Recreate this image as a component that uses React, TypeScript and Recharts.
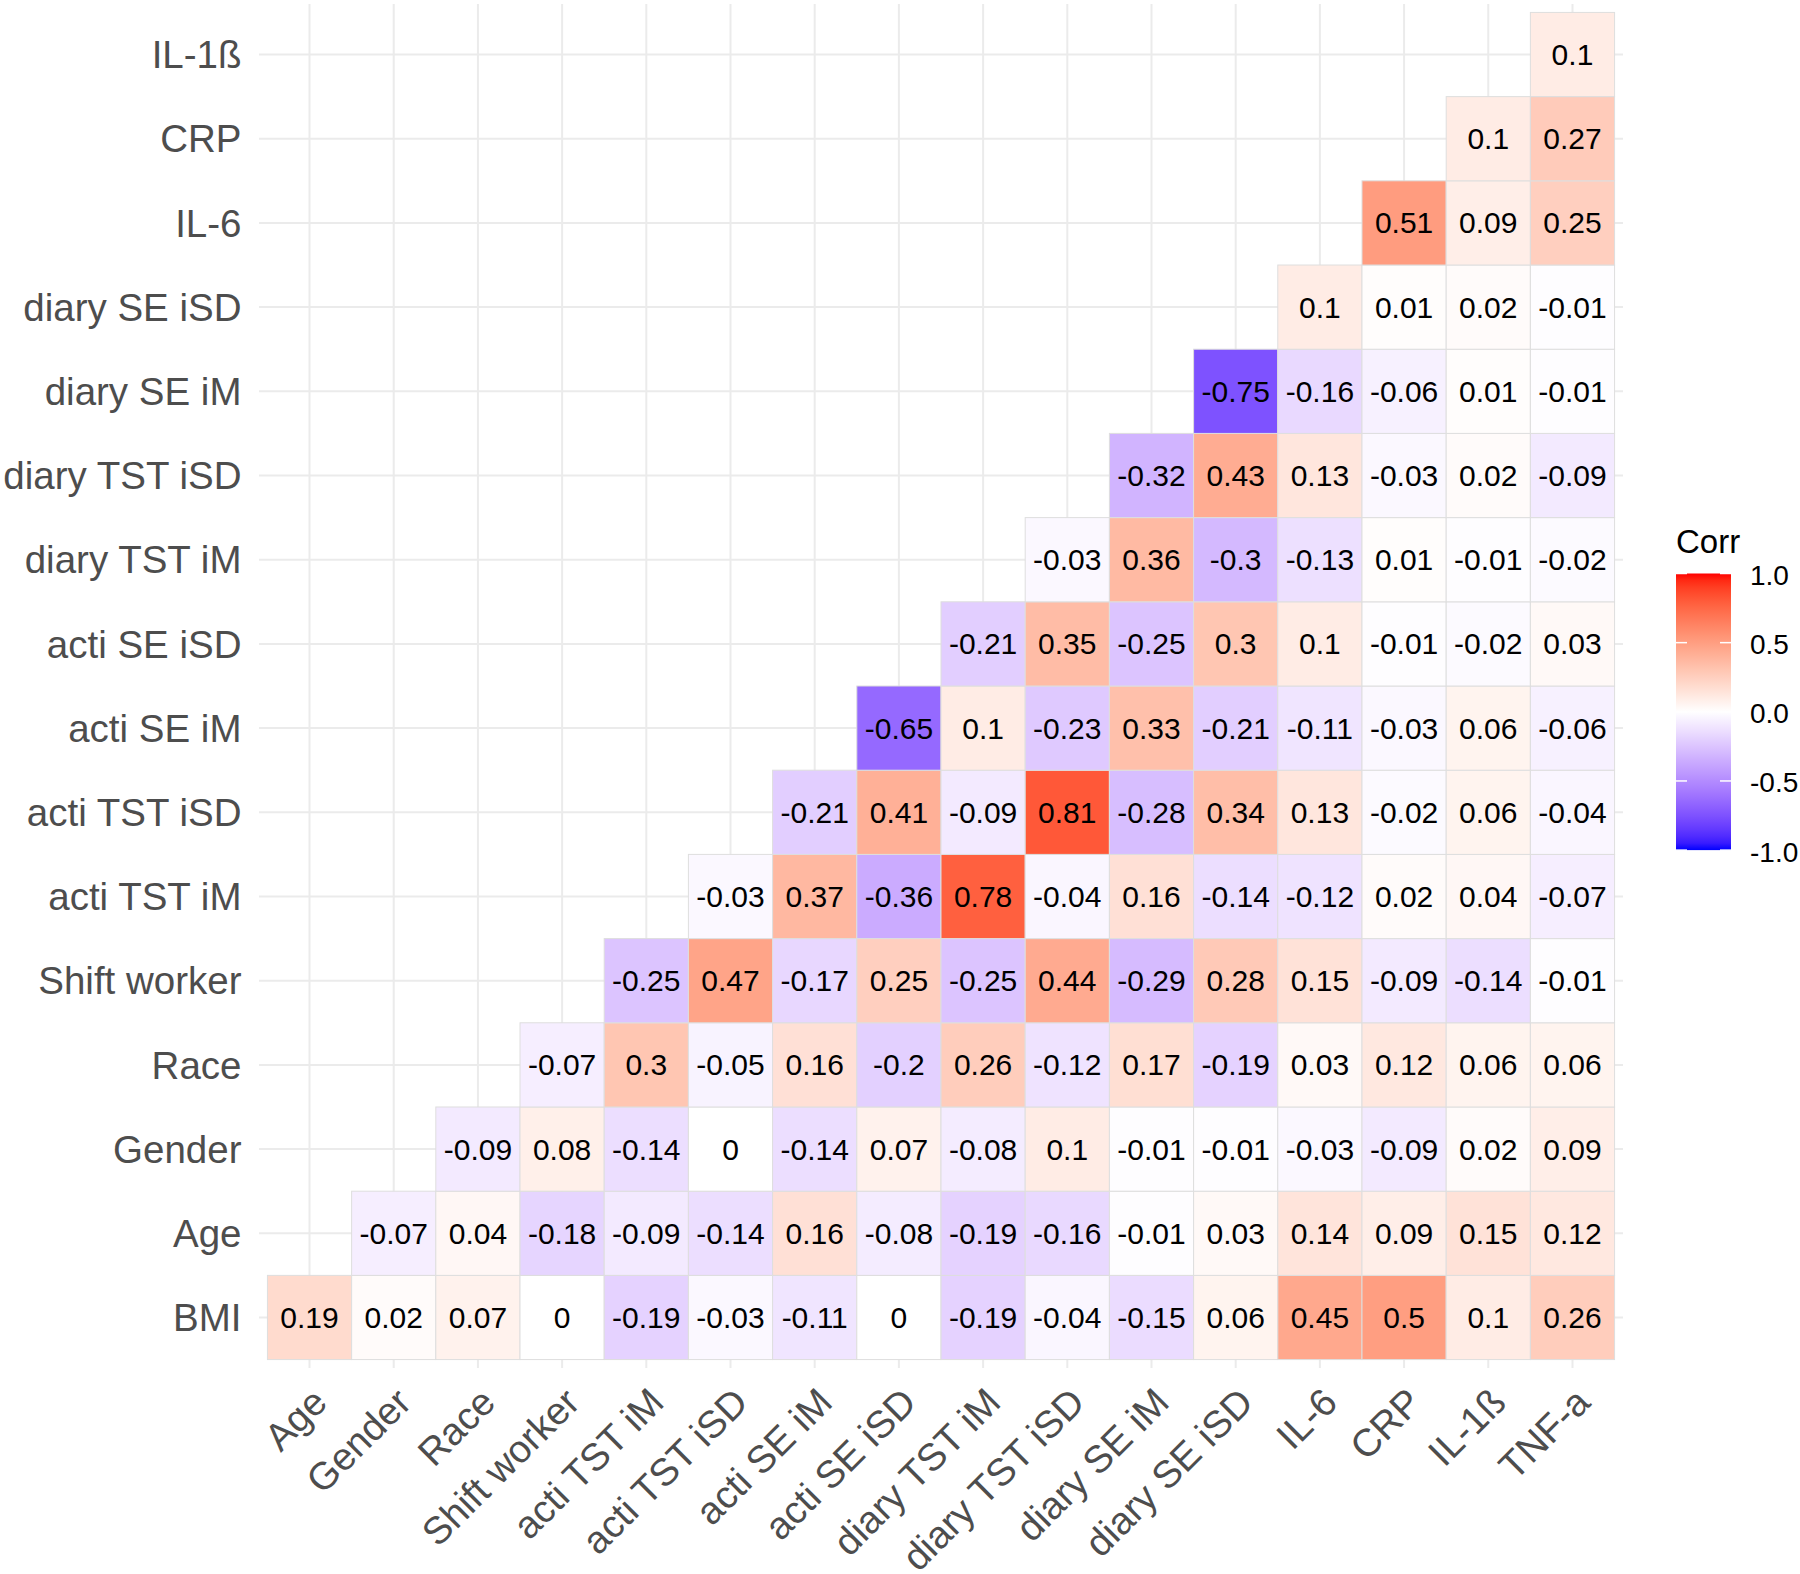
import { CartesianGrid, Scatter, ScatterChart, XAxis, YAxis } from "recharts";

const variables = [
  "BMI", "Age", "Gender", "Race", "Shift worker",
  "acti TST iM", "acti TST iSD", "acti SE iM", "acti SE iSD",
  "diary TST iM", "diary TST iSD", "diary SE iM", "diary SE iSD",
  "IL-6", "CRP", "IL-1ß", "TNF-a",
];
const xLabels = variables.slice(1);
const yLabels = variables.slice(0, 16);

// one array per row, read left to right (columns start at the variable after the row's own)
const bmi = [0.19, 0.02, 0.07, 0, -0.19, -0.03, -0.11, 0, -0.19, -0.04, -0.15, 0.06, 0.45, 0.5, 0.1, 0.26];
const age = [-0.07, 0.04, -0.18, -0.09, -0.14, 0.16, -0.08, -0.19, -0.16, -0.01, 0.03, 0.14, 0.09, 0.15, 0.12];
const gender = [-0.09, 0.08, -0.14, 0, -0.14, 0.07, -0.08, 0.1, -0.01, -0.01, -0.03, -0.09, 0.02, 0.09];
const race = [-0.07, 0.3, -0.05, 0.16, -0.2, 0.26, -0.12, 0.17, -0.19, 0.03, 0.12, 0.06, 0.06];
const shiftWorker = [-0.25, 0.47, -0.17, 0.25, -0.25, 0.44, -0.29, 0.28, 0.15, -0.09, -0.14, -0.01];
const actiTstIM = [-0.03, 0.37, -0.36, 0.78, -0.04, 0.16, -0.14, -0.12, 0.02, 0.04, -0.07];
const actiTstISD = [-0.21, 0.41, -0.09, 0.81, -0.28, 0.34, 0.13, -0.02, 0.06, -0.04];
const actiSeIM = [-0.65, 0.1, -0.23, 0.33, -0.21, -0.11, -0.03, 0.06, -0.06];
const actiSeISD = [-0.21, 0.35, -0.25, 0.3, 0.1, -0.01, -0.02, 0.03];
const diaryTstIM = [-0.03, 0.36, -0.3, -0.13, 0.01, -0.01, -0.02];
const diaryTstISD = [-0.32, 0.43, 0.13, -0.03, 0.02, -0.09];
const diarySeIM = [-0.75, -0.16, -0.06, 0.01, -0.01];
const diarySeISD = [0.1, 0.01, 0.02, -0.01];
const il6 = [0.51, 0.09, 0.25];
const crp = [0.1, 0.27];
const il1b = [0.1];

const rows = [bmi, age, gender, race, shiftWorker, actiTstIM, actiTstISD, actiSeIM, actiSeISD,
  diaryTstIM, diaryTstISD, diarySeIM, diarySeISD, il6, crp, il1b];

const legendTicks = [1, 0.5, 0, -0.5, -1];

const cells = rows.flatMap((vals, i) => vals.map((v, k) => ({ x: i + k, y: i, v })));

// layout
const W = 1800;
const H = 1574;
const LEFT = 259;
const TOP = 4;
const RIGHT = 177;
const BOTTOM = 206;
const DOMAIN: [number, number] = [-0.6, 15.6];
const CELL = (W - LEFT - RIGHT) / (DOMAIN[1] - DOMAIN[0]);
const FONT = "'Liberation Sans', Arial, sans-serif";
const AXIS_SIZE = 38.5;
const idx = Array.from({ length: 16 }, (_, i) => i);

// ggplot scale_fill_gradient2 (blue - white - red), interpolated in CIELAB
const toLin = (c: number) => (c <= 0.04045 ? c / 12.92 : Math.pow((c + 0.055) / 1.055, 2.4));
const fromLin = (c: number) => (c <= 0.0031308 ? 12.92 * c : 1.055 * Math.pow(c, 1 / 2.4) - 0.055);
const WX = 0.95047, WY = 1, WZ = 1.08883;
function rgbToLab([r, g, b]: number[]) {
  const R = toLin(r / 255), G = toLin(g / 255), B = toLin(b / 255);
  const X = (R * 0.4124 + G * 0.3576 + B * 0.1805) / WX;
  const Y = (R * 0.2126 + G * 0.7152 + B * 0.0722) / WY;
  const Z = (R * 0.0193 + G * 0.1192 + B * 0.9505) / WZ;
  const f = (t: number) => (t > 0.008856 ? Math.cbrt(t) : 7.787 * t + 16 / 116);
  return [116 * f(Y) - 16, 500 * (f(X) - f(Y)), 200 * (f(Y) - f(Z))];
}
function labToHex([L, a, b]: number[]) {
  const fy = (L + 16) / 116, fx = fy + a / 500, fz = fy - b / 200;
  const inv = (t: number) => (t ** 3 > 0.008856 ? t ** 3 : (t - 16 / 116) / 7.787);
  const X = inv(fx) * WX, Y = inv(fy) * WY, Z = inv(fz) * WZ;
  const r = X * 3.2406 + Y * -1.5372 + Z * -0.4986;
  const g = X * -0.9689 + Y * 1.8758 + Z * 0.0415;
  const bl = X * 0.0557 + Y * -0.204 + Z * 1.057;
  const h = (c: number) => Math.round(Math.min(1, Math.max(0, fromLin(c))) * 255).toString(16).padStart(2, "0");
  return `#${h(r)}${h(g)}${h(bl)}`;
}
const LAB_LOW = rgbToLab([0, 0, 255]);
const LAB_MID = rgbToLab([255, 255, 255]);
const LAB_HIGH = rgbToLab([255, 0, 0]);
function fillFor(v: number) {
  const end = v >= 0 ? LAB_HIGH : LAB_LOW;
  const t = Math.min(1, Math.abs(v));
  return labToHex(LAB_MID.map((m, i) => m + (end[i] - m) * t));
}

function Tile(props: any) {
  const { cx, cy, payload } = props;
  if (cx == null || cy == null) return null;
  return (
    <g>
      <rect x={cx - CELL / 2} y={cy - CELL / 2} width={CELL} height={CELL}
        fill={fillFor(payload.v)} stroke="#dedede" strokeWidth={1} />
      <text x={cx} y={cy} textAnchor="middle" dominantBaseline="central"
        fontFamily={FONT} fontSize={30} fill="#000">{String(payload.v)}</text>
    </g>
  );
}

function XTick({ x, y, payload }: any) {
  return (
    <g transform={`translate(${x},${y})`}>
      <text textAnchor="end" transform="rotate(-45)" dy="0.72em"
        fontFamily={FONT} fontSize={AXIS_SIZE} fill="#4d4d4d">{xLabels[payload.value]}</text>
    </g>
  );
}

function Legend() {
  const mid = 711.8;
  const unit = 138.3;
  const stops = Array.from({ length: 41 }, (_, i) => 1 - i / 20);
  return (
    <svg width={W} height={H} style={{ position: "absolute", left: 0, top: 0, pointerEvents: "none" }}>
      <defs>
        <linearGradient id="corrGrad" x1="0" y1="0" x2="0" y2="1">
          {stops.map((s, i) => (
            <stop key={i} offset={`${(i / 40) * 100}%`} stopColor={fillFor(s)} />
          ))}
        </linearGradient>
      </defs>
      <text x={1676} y={553} fontFamily={FONT} fontSize={33} fill="#000">Corr</text>
      <rect x={1676} y={mid - unit} width={55} height={2 * unit} fill="url(#corrGrad)" />
      {legendTicks.map((t) => (
        <g key={t}>
          <line x1={1676} x2={1687} y1={mid - t * unit} y2={mid - t * unit} stroke="#fff" strokeWidth={1.5} />
          <line x1={1720} x2={1731} y1={mid - t * unit} y2={mid - t * unit} stroke="#fff" strokeWidth={1.5} />
          <text x={1750} y={mid - t * unit + 2} dominantBaseline="central" fontFamily={FONT}
            fontSize={28} fill="#000">{t.toFixed(1)}</text>
        </g>
      ))}
    </svg>
  );
}

export default function App() {
  return (
    <div style={{ position: "absolute", left: 0, top: 0, width: W, height: H, background: "#fff" }}>
      <ScatterChart width={W} height={H} margin={{ top: TOP, right: RIGHT, bottom: 0, left: 0 }}>
        <CartesianGrid stroke="#ebebeb" strokeWidth={2} verticalValues={idx} horizontalValues={idx} />
        <XAxis type="number" dataKey="x" domain={DOMAIN} ticks={idx} interval={0}
          axisLine={false} tickLine={false} tickSize={0} tickMargin={17} height={BOTTOM}
          tick={<XTick />} allowDataOverflow />
        <YAxis type="number" dataKey="y" domain={DOMAIN} ticks={idx} interval={0}
          axisLine={false} tickLine={false} tickSize={0} tickMargin={17.5} width={LEFT}
          tick={{ fill: "#4d4d4d", fontSize: AXIS_SIZE, fontFamily: FONT }}
          tickFormatter={(v: number) => yLabels[v]} allowDataOverflow />
        <Scatter data={cells} shape={<Tile />} isAnimationActive={false} />
      </ScatterChart>
      <Legend />
    </div>
  );
}
